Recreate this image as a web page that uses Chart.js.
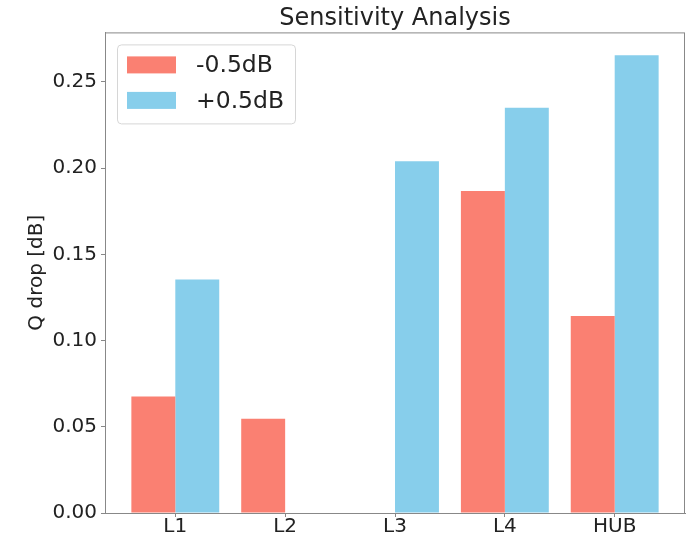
<!DOCTYPE html>
<html>
<head>
<meta charset="utf-8">
<script src="https://cdn.jsdelivr.net/npm/chart.js@4"></script>
<style>
  html, body { margin: 0; padding: 0; background: #fff; }
  #wrap { width: 693px; height: 539px; }
</style>
</head>
<body>
<div id="wrap"><canvas id="chart" width="693" height="539"></canvas></div>
<script>
// data
const categories = ['L1', 'L2', 'L3', 'L4', 'HUB'];
const minusValues = [0.0676, 0.0546, 0, 0.1867, 0.1143];
const plusValues = [0.1354, 0, 0.2040, 0.2350, 0.2655];
const yTicks = [0, 0.05, 0.10, 0.15, 0.20, 0.25];
const seriesLabels = ['-0.5dB', '+0.5dB'];
const seriesColors = ['#FA8072', '#87CEEB'];

Chart.defaults.font.family = 'DejaVu Sans';
Chart.defaults.color = '#222';

function toPoints(vals) {
  return vals.map((v, i) => ({ x: i, y: v }));
}

// frame + legend box like matplotlib
const framePlugin = {
  id: 'frame',
  afterDraw(chart) {
    const ctx = chart.ctx;
    const a = chart.chartArea;
    ctx.save();
    ctx.strokeStyle = '#888';
    ctx.lineWidth = 1;
    ctx.strokeRect(a.left + 0.5, a.top + 0.5, a.right - a.left - 1, a.bottom - a.top);

    // legend
    const lx = a.left + 12, ly = a.top + 12, lw = 178, lh = 79;
    ctx.beginPath();
    ctx.roundRect(lx + 0.5, ly + 0.5, lw, lh, 4);
    ctx.fillStyle = 'rgba(255,255,255,0.8)';
    ctx.fill();
    ctx.strokeStyle = '#d6d6d6';
    ctx.stroke();
    ctx.font = '23.5px "DejaVu Sans"';
    ctx.textBaseline = 'middle';
    ctx.textAlign = 'left';
    chart.data.datasets.forEach((ds, i) => {
      const cy = ly + 20.5 + i * 35.5;
      ctx.fillStyle = ds.backgroundColor;
      ctx.fillRect(lx + 10, cy - 8.5, 49, 17);
      ctx.fillStyle = '#222';
      ctx.fillText(ds.label, lx + 79, cy + 1);
    });
    ctx.restore();
  }
};

new Chart(document.getElementById('chart'), {
  type: 'bar',
  data: {
    datasets: [
      { label: seriesLabels[0], data: toPoints(minusValues), backgroundColor: seriesColors[0] },
      { label: seriesLabels[1], data: toPoints(plusValues), backgroundColor: seriesColors[1] }
    ]
  },
  options: {
    responsive: false,
    animation: false,
    layout: { padding: { left: 0, right: 8, top: 0, bottom: 0 } },
    datasets: { bar: { categoryPercentage: 0.8, barPercentage: 1.0, borderWidth: 0 } },
    plugins: {
      legend: { display: false },
      tooltip: { enabled: false },
      title: {
        display: true,
        text: 'Sensitivity Analysis',
        fullSize: false,
        color: '#222',
        font: { size: 24, weight: 'normal', lineHeight: 1.1 },
        padding: { top: 6, bottom: 0 }
      }
    },
    scales: {
      x: {
        type: 'linear',
        min: -0.64,
        max: 4.64,
        offset: false,
        grid: { offset: false, drawOnChartArea: false, drawTicks: true, tickLength: 4, color: '#888' },
        border: { display: true, color: '#888' },
        ticks: {
          padding: 0,
          color: '#222',
          font: { size: 20, lineHeight: 1 },
          callback: (v) => categories[v]
        },
        afterBuildTicks(scale) {
          scale.ticks = categories.map((c, i) => ({ value: i }));
        },
        afterFit(scale) { scale.height = 26; }
      },
      y: {
        min: 0,
        max: 0.2787,
        grid: { drawOnChartArea: false, drawTicks: true, tickLength: 4, color: '#888' },
        border: { display: true, color: '#888' },
        ticks: {
          padding: 4,
          color: '#222',
          font: { size: 20 },
          callback: (v) => v.toFixed(2)
        },
        afterBuildTicks(scale) {
          scale.ticks = yTicks.map((v) => ({ value: v }));
        },
        title: {
          display: true,
          text: 'Q drop [dB]',
          color: '#222',
          font: { size: 20, lineHeight: 1.2 },
          padding: { top: 25, bottom: 0 }
        },
        afterFit(scale) { scale.width = 105; }
      }
    }
  },
  plugins: [framePlugin]
});
</script>
</body>
</html>
